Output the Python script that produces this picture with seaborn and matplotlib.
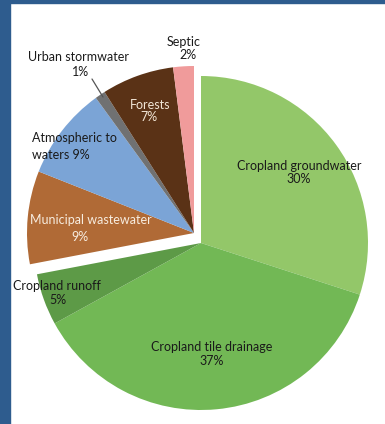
import matplotlib
matplotlib.use("Agg")
import matplotlib.pyplot as plt
import seaborn as sns
from matplotlib.patches import Rectangle

# ---- data ----
categories = ["Cropland groundwater", "Cropland tile drainage", "Cropland runoff",
              "Municipal wastewater", "Atmospheric to waters", "Urban stormwater",
              "Forests", "Septic"]
shares = [30, 37, 5, 9, 9, 1, 7, 2]
colors = ["#93c769", "#72b855", "#5d9a47", "#b06a36", "#7ba4d6", "#707172",
          "#5a3216", "#f09b9b"]
cropland_group = [True, True, True, False, False, False, False, False]

# label lines per slice (text, text colour)
label_lines = {
    "Cropland groundwater": ["Cropland groundwater", "30%"],
    "Cropland tile drainage": ["Cropland tile drainage", "37%"],
    "Cropland runoff": ["Cropland runoff", "5%"],
    "Municipal wastewater": ["Municipal wastewater", "9%"],
    "Atmospheric to waters": ["Atmospheric to", "waters 9%"],
    "Urban stormwater": ["Urban stormwater", "1%"],
    "Forests": ["Forests", "7%"],
    "Septic": ["Septic", "2%"],
}
label_colors = {"Municipal wastewater": "#f7ecdf", "Forests": "#f2e6d6"}

# ---- layout (pixel coordinates, y measured from top) ----
W, H = 385, 424
center_main = (201, 243)
center_other = (194, 233)
radius = 167
# (x, y, ha) per line
label_pos = {
    "Cropland groundwater": [(299, 166, "center"), (299, 179, "center")],
    "Cropland tile drainage": [(212, 347, "center"), (212, 361, "center")],
    "Cropland runoff": [(57, 286, "center"), (58, 300, "center")],
    "Municipal wastewater": [(91, 220, "center"), (80, 237, "center")],
    "Atmospheric to waters": [(32, 138, "left"), (32, 155, "left")],
    "Urban stormwater": [(79, 57, "center"), (81, 72, "center")],
    "Forests": [(150, 105, "center"), (149, 117, "center")],
    "Septic": [(184, 42, "center"), (188, 55, "center")],
}

sns.set_theme(style="white")
plt.rcParams["font.family"] = ["Lato", "DejaVu Sans"]

fig = plt.figure(figsize=(W / 100, H / 100), dpi=100)
fig.patch.set_facecolor("white")
ax = fig.add_axes([0, 0, 1, 1])
ax.set_xlim(0, W)
ax.set_ylim(0, H)
ax.set_aspect("equal")
ax.axis("off")

def Y(y):
    return H - y

wedges, _ = ax.pie(shares, colors=colors, startangle=90, counterclock=False,
                   center=(center_main[0], Y(center_main[1])), radius=radius,
                   wedgeprops=dict(linewidth=0), frame=True)
ax.set_xlim(0, W)
ax.set_ylim(0, H)
ax.axis("off")
for w, grp in zip(wedges, cropland_group):
    if not grp:
        w.set_center((center_other[0], Y(center_other[1])))

for cat in categories:
    col = label_colors.get(cat, "#1a1a1a")
    for line, (x, y, ha) in zip(label_lines[cat], label_pos[cat]):
        ax.text(x, Y(y), line, ha=ha, va="center", fontsize=9, color=col)

# leader line for urban stormwater
ax.plot([92, 103], [Y(79), Y(97)], color="#555555", lw=0.9)

# blue frame on the left and top
fig.patches.append(Rectangle((0, 0), 10 / W, 1, transform=fig.transFigure,
                             color="#2e5c8e", zorder=10))
fig.patches.append(Rectangle((0, 1 - 3 / H), 1, 3 / H, transform=fig.transFigure,
                             color="#2e5c8e", zorder=10))

fig.savefig("out.png", dpi=100)
